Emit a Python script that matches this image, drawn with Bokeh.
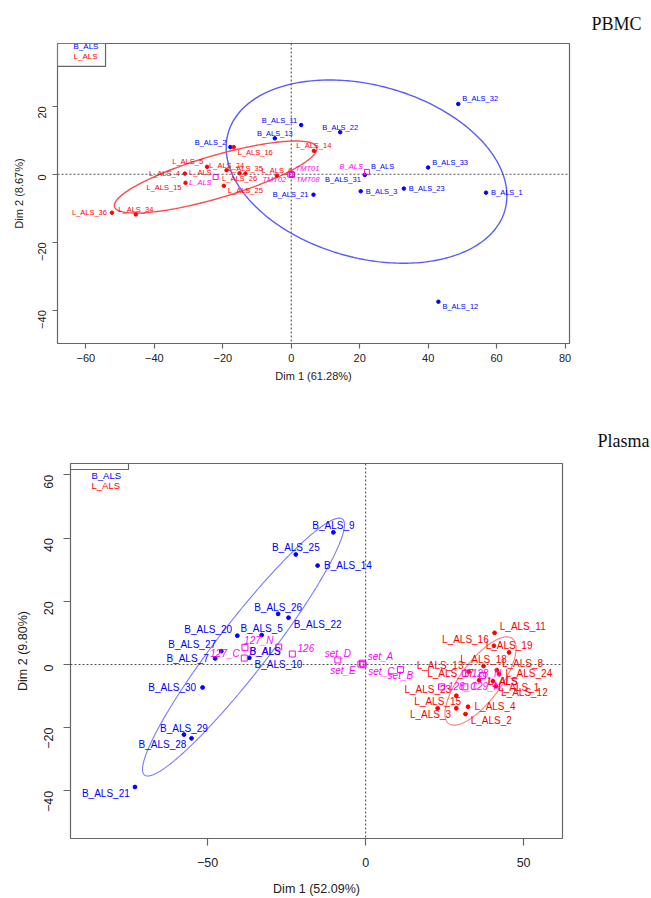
import numpy as np
from bokeh.plotting import figure
from bokeh.models import Range1d, Span, ColumnDataSource, FixedTicker
from bokeh.embed import file_html
from bokeh.resources import INLINE
from bokeh.core.properties import value

# ===================== DATA : PBMC =====================
pbmc_b_names = ["B_ALS_32", "B_ALS_11", "B_ALS_22", "B_ALS_13", "B_ALS_2", "B_ALS_33",
                "B_ALS_31", "B_ALS_3", "B_ALS_23", "B_ALS_1", "B_ALS_21", "B_ALS_12"]
pbmc_b_x = [48.8, 2.9, 14.3, -4.8, -17.8, 40.0, 21.5, 20.3, 32.9, 56.9, 6.5, 43.0]
pbmc_b_y = [20.7, 14.5, 12.4, 10.6, 8.0, 2.0, -0.2, -5.0, -4.2, -5.4, -6.0, -37.5]

pbmc_l_names = ["L_ALS_16", "L_ALS_14", "L_ALS_5", "L_ALS_24", "L_ALS_4", "L_ALS_15",
                "L_ALS_25", "L_ALS_35", "L_ALS_26", "L_ALS_6", "L_ALS_36", "L_ALS_34"]
pbmc_l_x = [-16.8, 6.6, -24.6, -18.9, -31.1, -30.9, -19.7, -13.4, -15.1, -4.2, -52.4, -45.4]
pbmc_l_y = [8.0, 6.9, 2.2, 1.2, 0.2, -2.5, -3.4, 0.2, 0.3, -0.4, -11.3, -11.8]

pbmc_sup_names = ["B_ALS", "L_ALS", "TMT01", "TMT02", "TMT08"]
pbmc_sup_x = [22.1, -22.1, 0.1, -0.3, 0.2]
pbmc_sup_y = [0.7, -0.8, 0.1, -0.1, -0.2]

pbmc_groups = ["B_ALS", "L_ALS"]
pbmc_ell_cx = [22.0, -22.1]
pbmc_ell_cy = [0.8, -0.8]
pbmc_ell_a = [42.0, 30.8]
pbmc_ell_b = [25.4, 6.25]
pbmc_ell_angle = [-15.7, 16.5]

pbmc_xticks = [-60, -40, -20, 0, 20, 40, 60, 80]
pbmc_yticks = [-40, -20, 0, 20]

# ===================== DATA : Plasma =====================
plasma_b_names = ["B_ALS_9", "B_ALS_25", "B_ALS_14", "B_ALS_26", "B_ALS_22", "B_ALS_20",
                  "B_ALS_5", "B_ALS_27", "B_ALS_7", "B_ALS_10", "B_ALS_30", "B_ALS_29",
                  "B_ALS_28", "B_ALS_21"]
plasma_b_x = [-10.2, -22.1, -15.2, -27.7, -24.4, -40.6, -32.9, -45.7, -47.6, -36.8,
              -51.6, -57.5, -55.1, -73.0]
plasma_b_y = [41.8, 34.8, 31.3, 16.0, 14.8, 9.1, 9.3, 4.2, 1.9, 2.1, -7.3, -22.2,
              -23.4, -38.8]

plasma_l_names = ["L_ALS_11", "L_ALS_16", "L_ALS_19", "L_ALS_18", "L_ALS_13", "L_ALS_8",
                  "L_ALS_24", "L_ALS_17", "L_ALS_1", "L_ALS_12", "L_ALS_23", "L_ALS_15",
                  "L_ALS_4", "L_ALS_3", "L_ALS_2"]
plasma_l_x = [40.8, 40.6, 45.4, 37.3, 32.6, 41.5, 42.2, 35.9, 40.3, 41.2, 28.7, 22.8,
              32.4, 28.7, 31.6]
plasma_l_y = [10.0, 5.9, 3.8, -0.5, -2.3, -1.8, -3.0, -5.0, -5.3, -6.9, -9.9, -13.9,
              -13.4, -13.9, -15.7]

plasma_sup_names = ["set_A", "set_C", "set_E", "set_D", "set_B", "126", "127_N", "127_C",
                    "128_N", "128_C", "129_N", "B_ALS", "L_ALS"]
plasma_sup_x = [-1.0, -0.8, -1.5, -8.8, 11.0, -23.2, -27.5, -38.2, 31.5, 24.0, 31.4, -38.4, 37.0]
plasma_sup_y = [0.4, -0.1, 0.1, 1.4, -1.6, 3.3, 5.5, 5.4, -2.8, -7.1, -7.1, 2.0, -3.5]

plasma_groups = ["B_ALS", "L_ALS"]
plasma_ell_cx = [-38.65, 36.35]
plasma_ell_cy = [5.5, -5.25]
plasma_ell_a = [51.2, 16.8]
plasma_ell_b = [8.1, 6.3]
plasma_ell_angle = [52.3, 53.2]

plasma_xticks = [-50, 0, 50]
plasma_yticks = [-40, -20, 0, 20, 40, 60]

# ===================== label placement (style) =====================
pbmc_place = {
    "B_ALS_32": "ru", "B_ALS_11": "lu", "B_ALS_22": "u", "B_ALS_13": "u", "B_ALS_2": "lu",
    "B_ALS_33": "ru", "B_ALS_31": "ld", "B_ALS_3": "r", "B_ALS_23": "r", "B_ALS_1": "r",
    "B_ALS_21": "l", "B_ALS_12": "rd",
    "L_ALS_16": "rd", "L_ALS_14": "u", "L_ALS_5": "lu", "L_ALS_24": "u", "L_ALS_4": "l",
    "L_ALS_15": "ld", "L_ALS_25": "rd", "L_ALS_35": "u", "L_ALS_26": "d", "L_ALS_6": "u",
    "L_ALS_36": "l", "L_ALS_34": "u",
    "sup:B_ALS": "lu", "sup:L_ALS": "ld", "sup:TMT01": "ru", "sup:TMT02": "ld", "sup:TMT08": "rd",
    "grp:B_ALS": "ru", "grp:L_ALS": "lu",
}
plasma_place = {
    "B_ALS_9": "u", "B_ALS_25": "u", "B_ALS_14": "r", "B_ALS_26": "u", "B_ALS_22": "rd",
    "B_ALS_20": "lu", "B_ALS_5": "u", "B_ALS_27": "lu", "B_ALS_7": "l", "B_ALS_10": "rd",
    "B_ALS_30": "l", "B_ALS_29": "u", "B_ALS_28": "ld", "B_ALS_21": "ld",
    "L_ALS_11": "ru", "L_ALS_16": "lu", "L_ALS_19": "u", "L_ALS_18": "u", "L_ALS_13": "lu",
    "L_ALS_8": "ru", "L_ALS_24": "r", "L_ALS_17": "lu", "L_ALS_1": "rd", "L_ALS_12": "rd",
    "L_ALS_23": "lu", "L_ALS_15": "u", "L_ALS_4": "r", "L_ALS_3": "ld", "L_ALS_2": "rd",
    "sup:set_A": "ru", "sup:set_C": "rd", "sup:set_E": "ld", "sup:set_D": "u", "sup:set_B": "d",
    "sup:126": "ru", "sup:127_N": "lu", "sup:127_C": "ld", "sup:128_N": "r", "sup:128_C": "r",
    "sup:129_N": "r", "sup:B_ALS": "ru", "sup:L_ALS": "rd",
    "grp:B_ALS": "ru", "grp:L_ALS": "rd",
}

BLUE = "#0000FF"
RED = "#FF0000"
MAG = "#FF00FF"
FONT = "Liberation Sans"


def offsets(codes, d):
    table = {
        "r": ("left", d, 0.0), "l": ("right", -d, 0.0),
        "u": ("center", 0.0, -d), "d": ("center", 0.0, d),
        "ru": ("left", 0.8 * d, -d), "lu": ("right", -0.8 * d, -d),
        "rd": ("left", 0.8 * d, d), "ld": ("right", -0.8 * d, d),
    }
    al, xo, yo = [], [], []
    for c in codes:
        a, x, y = table[c]
        al.append(a); xo.append(x); yo.append(y)
    return al, xo, yo


def add_labels(p, xs, ys, names, keys, place, color, d, fsize, style="normal"):
    al, xo, yo = offsets([place[k] for k in keys], d)
    src = ColumnDataSource(dict(x=xs, y=ys, t=names, al=al, xo=xo, yo=yo))
    p.text(x="x", y="y", text="t", source=src, text_align="al", text_baseline="middle",
           x_offset="xo", y_offset="yo", text_color=color, text_font=value(FONT),
           text_font_size=fsize, text_font_style=style)


def ellipse_pts(cx, cy, a, b, ang):
    t = np.linspace(0, 2 * np.pi, 300)
    th = np.deg2rad(ang)
    ex = cx + a * np.cos(t) * np.cos(th) - b * np.sin(t) * np.sin(th)
    ey = cy + a * np.cos(t) * np.sin(th) + b * np.sin(t) * np.cos(th)
    return ex, ey


def build(cfg):
    p = figure(width=651, height=cfg["h"], x_range=Range1d(*cfg["xr"]),
               y_range=Range1d(*cfg["yr"]), output_backend="svg", toolbar_location=None,
               min_border_left=cfg["bl"], min_border_right=cfg["br"],
               min_border_top=cfg["bt"], min_border_bottom=cfg["bb"])
    p.background_fill_color = "white"
    p.border_fill_color = "white"
    p.grid.visible = False
    p.outline_line_color = "#666666"
    p.outline_line_width = 1.2

    p.title.text = cfg["title"]
    p.title.align = "right"
    p.title.offset = cfg["toff"]
    p.title.standoff = cfg["tso"]
    p.title.text_font = "Liberation Serif"
    p.title.text_font_size = "18px"
    p.title.text_font_style = "normal"
    p.title.text_color = "#111111"

    for ax, ticks, lab in ((p.xaxis, cfg["xt"], cfg["xl"]), (p.yaxis, cfg["yt"], cfg["yl"])):
        ax.ticker = FixedTicker(ticks=ticks)
        ax.axis_line_color = None
        ax.major_tick_line_color = "#666666"
        ax.major_tick_line_width = 1.2
        ax.major_tick_in = 0
        ax.major_tick_out = cfg["tick"]
        ax.minor_tick_line_color = None
        ax.major_label_text_font = FONT
        ax.major_label_text_font_size = cfg["tfs"]
        ax.major_label_text_color = "#222222"
        ax.axis_label = lab
        ax.axis_label_text_font = FONT
        ax.axis_label_text_font_style = "normal"
        ax.axis_label_text_font_size = cfg["afs"]
        ax.axis_label_text_color = "#222222"
    p.xaxis.major_label_standoff = cfg["xlso"]
    p.yaxis.major_label_standoff = cfg["ylso"]
    p.xaxis.axis_label_standoff = cfg["xaso"]
    p.yaxis.axis_label_standoff = cfg["yaso"]
    p.yaxis.major_label_orientation = np.pi / 2

    p.add_layout(Span(location=0, dimension="height", line_color="#555555",
                      line_dash="2 2", line_width=1.1))
    p.add_layout(Span(location=0, dimension="width", line_color="#555555",
                      line_dash="2 2", line_width=1.1))

    # ellipses
    for g, cx, cy, a, b, ang, col in zip(cfg["groups"], cfg["ecx"], cfg["ecy"], cfg["ea"],
                                          cfg["eb"], cfg["eang"], cfg["ecol"]):
        ex, ey = ellipse_pts(cx, cy, a, b, ang)
        p.line(ex, ey, line_color=col, line_width=cfg["elw"])

    d = cfg["d"]
    fs = cfg["pfs"]
    # individuals
    p.scatter(cfg["bx"], cfg["by"], size=cfg["dot"], color=BLUE, marker="circle")
    p.scatter(cfg["lx"], cfg["ly"], size=cfg["dot"], color=RED, marker="circle")
    add_labels(p, cfg["bx"], cfg["by"], cfg["bn"], cfg["bn"], cfg["place"], BLUE, d, fs)
    add_labels(p, cfg["lx"], cfg["ly"], cfg["ln"], cfg["ln"], cfg["place"], RED, d, fs)

    # supplementary categories
    p.scatter(cfg["sx"], cfg["sy"], size=cfg["sq"], marker="square", fill_color=None,
              line_color=MAG, line_width=1)
    add_labels(p, cfg["sx"], cfg["sy"], cfg["sn"], ["sup:" + n for n in cfg["sn"]],
               cfg["place"], MAG, d, fs, style="italic")

    # group (ellipse) labels at category points
    gx = [cfg["sx"][cfg["sn"].index(g)] for g in cfg["groups"]]
    gy = [cfg["sy"][cfg["sn"].index(g)] for g in cfg["groups"]]
    for g, x, y, col in zip(cfg["groups"], gx, gy, (BLUE, RED)):
        add_labels(p, [x], [y], [g], ["grp:" + g], cfg["place"], col, d, fs)

    # legend box top-left
    x0, x1 = cfg["xr"]
    y0, y1 = cfg["yr"]
    sx = cfg["sx_px"]
    lw, lh = cfg["legw"] / sx, cfg["legh"] / sx
    if cfg["legbox"]:
        p.quad(left=[x0], right=[x0 + lw], top=[y1], bottom=[y1 - lh], fill_color="white",
               line_color="#666666", line_width=1.2)
    else:
        p.line([x0, x0 + lw, x0 + lw], [y1 - lh, y1 - lh, y1], line_color="#666666",
               line_width=1.2)
    lx = x0 + cfg["legtx"] / sx
    ly1 = y1 - cfg["legty"][0] / sx
    ly2 = y1 - cfg["legty"][1] / sx
    p.text(x=[lx, lx], y=[ly1, ly2], text=["B_ALS", "L_ALS"], text_color=[BLUE, RED],
           text_font=value(FONT), text_font_size=cfg["lfs"], text_baseline="middle",
           text_align="left")
    return p


pbmc_cfg = dict(
    h=398, xr=(-68.3, 81.3), yr=(-49.8, 38.5), bl=57, br=82, bt=43, bb=55,
    xt=pbmc_xticks, yt=pbmc_yticks, xl="Dim 1 (61.28%)", yl="Dim 2 (8.67%)",
    tick=5, tfs="11px", afs="11px", xlso=5, ylso=10, xaso=5, yaso=7,
    groups=pbmc_groups, ecx=pbmc_ell_cx, ecy=pbmc_ell_cy, ea=pbmc_ell_a, eb=pbmc_ell_b,
    eang=pbmc_ell_angle, ecol=["#5a5aff", "#ff4a4a"], elw=1.4,
    d=5, pfs="7.5px", dot=3.5, sq=5,
    bx=pbmc_b_x, by=pbmc_b_y, bn=pbmc_b_names, lx=pbmc_l_x, ly=pbmc_l_y, ln=pbmc_l_names,
    sx=pbmc_sup_x, sy=pbmc_sup_y, sn=pbmc_sup_names, place=pbmc_place,
    sx_px=3.42, legbox=True, legw=48, legh=23, legtx=16, legty=(3.5, 13), lfs="8px",
    title="PBMC", toff=-72, tso=20,
)

plasma_cfg = dict(
    h=500, xr=(-93.4, 62.3), yr=(-55.1, 63.6), bl=70, br=89, bt=65, bb=60,
    xt=plasma_xticks, yt=plasma_yticks, xl="Dim 1 (52.09%)", yl="Dim 2 (9.80%)",
    tick=7, tfs="12.5px", afs="12.5px", xlso=12, ylso=15, xaso=12, yaso=7,
    groups=plasma_groups, ecx=plasma_ell_cx, ecy=plasma_ell_cy, ea=plasma_ell_a,
    eb=plasma_ell_b, eang=plasma_ell_angle, ecol=["#7a7aff", "#ff7a7a"], elw=1.1,
    d=6.5, pfs="10px", dot=3.8, sq=6,
    bx=plasma_b_x, by=plasma_b_y, bn=plasma_b_names, lx=plasma_l_x, ly=plasma_l_y,
    ln=plasma_l_names, sx=plasma_sup_x, sy=plasma_sup_y, sn=plasma_sup_names,
    place=plasma_place,
    sx_px=3.16, legbox=False, legw=58, legh=6, legtx=21, legty=(12, 22.5), lfs="9.5px",
    title="Plasma", toff=-87, tso=25,
)

p1 = build(pbmc_cfg)
p2 = build(plasma_cfg)

open("out.html", "w").write(file_html([p1, p2], INLINE))
